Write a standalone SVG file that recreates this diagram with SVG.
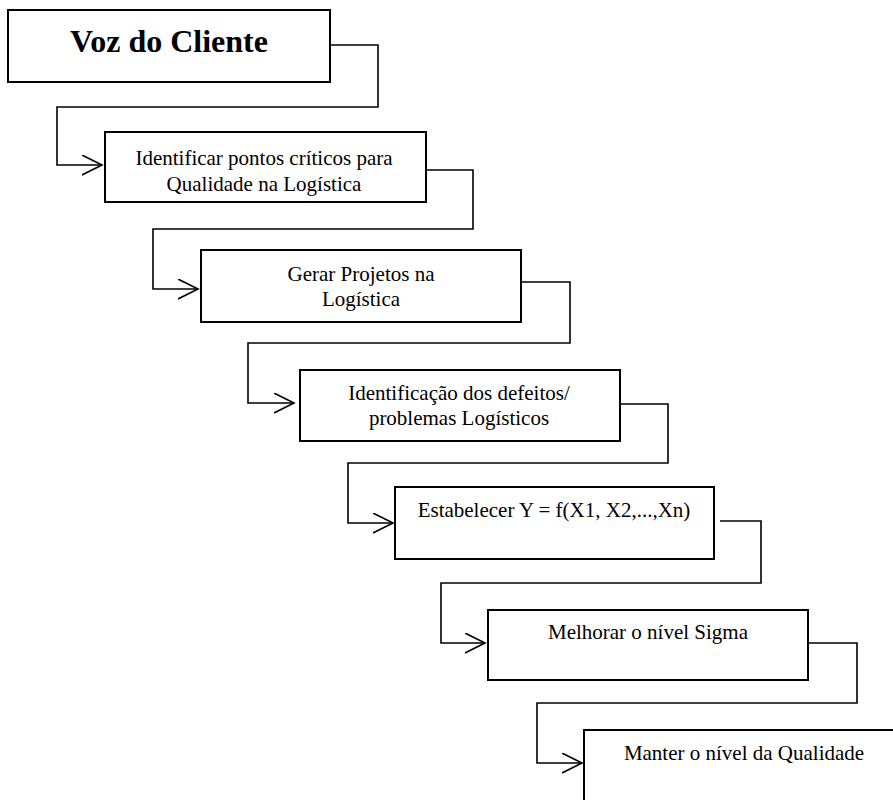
<svg xmlns="http://www.w3.org/2000/svg" width="893" height="800" viewBox="0 0 893 800">
  <style>
    .box { fill: #ffffff; stroke: #000000; stroke-width: 2; }
    .link { fill: none; stroke: #000000; stroke-width: 1.6; }
    .label { font-family: "Liberation Serif", "Times New Roman", serif; font-size: 21px; fill: #000000; text-anchor: middle; }
    .title { font-family: "Liberation Serif", "Times New Roman", serif; font-size: 32px; font-weight: bold; fill: #000000; text-anchor: middle; }
  </style>
  <defs>
    <marker id="open-arrow" markerWidth="24" markerHeight="24" refX="20" refY="10" orient="auto" markerUnits="userSpaceOnUse">
      <path d="M0,0 L20,10 L0,20" fill="none" stroke="#000000" stroke-width="1.6"/>
    </marker>
  </defs>
  <rect width="893" height="800" fill="#ffffff"/>

  <!-- stepped connectors between consecutive stages -->
  <g id="connectors">
    <path class="link" d="M330,45 H378 V107 H57 V165 H102" marker-end="url(#open-arrow)"/>
    <path class="link" d="M426,170 H473 V229 H153 V289 H198" marker-end="url(#open-arrow)"/>
    <path class="link" d="M521,282 H570 V343 H248 V403 H294" marker-end="url(#open-arrow)"/>
    <path class="link" d="M620,404 H668 V463 H348 V523 H393" marker-end="url(#open-arrow)"/>
    <path class="link" d="M720,521 H761 V583 H441 V643 H485" marker-end="url(#open-arrow)"/>
    <path class="link" d="M808,643 H857 V703 H537 V763 H582" marker-end="url(#open-arrow)"/>
  </g>

  <g id="voz-do-cliente">
    <rect class="box" x="8" y="10" width="322" height="72"/>
    <text class="title" x="169" y="52">Voz do Cliente</text>
  </g>

  <g id="pontos-criticos">
    <rect class="box" x="105" y="132" width="321" height="70"/>
    <text class="label" x="264" y="165">Identificar pontos críticos para</text>
    <text class="label" x="264" y="191">Qualidade na Logística</text>
  </g>

  <g id="gerar-projetos">
    <rect class="box" x="201" y="250" width="320" height="72"/>
    <text class="label" x="361" y="281">Gerar Projetos na</text>
    <text class="label" x="361" y="306">Logística</text>
  </g>

  <g id="identificacao-defeitos">
    <rect class="box" x="300" y="370" width="320" height="71"/>
    <text class="label" x="459" y="400">Identificação dos defeitos/</text>
    <text class="label" x="459" y="425">problemas Logísticos</text>
  </g>

  <g id="estabelecer-y">
    <rect class="box" x="395" y="487" width="319" height="72"/>
    <text class="label" x="554" y="517">Estabelecer Y = f(X1, X2,...,Xn)</text>
  </g>

  <g id="melhorar-sigma">
    <rect class="box" x="488" y="610" width="320" height="70"/>
    <text class="label" x="648" y="639">Melhorar o nível Sigma</text>
  </g>

  <g id="manter-qualidade">
    <rect class="box" x="584" y="730" width="322" height="80"/>
    <text class="label" x="744" y="760">Manter o nível da Qualidade</text>
  </g>
</svg>
